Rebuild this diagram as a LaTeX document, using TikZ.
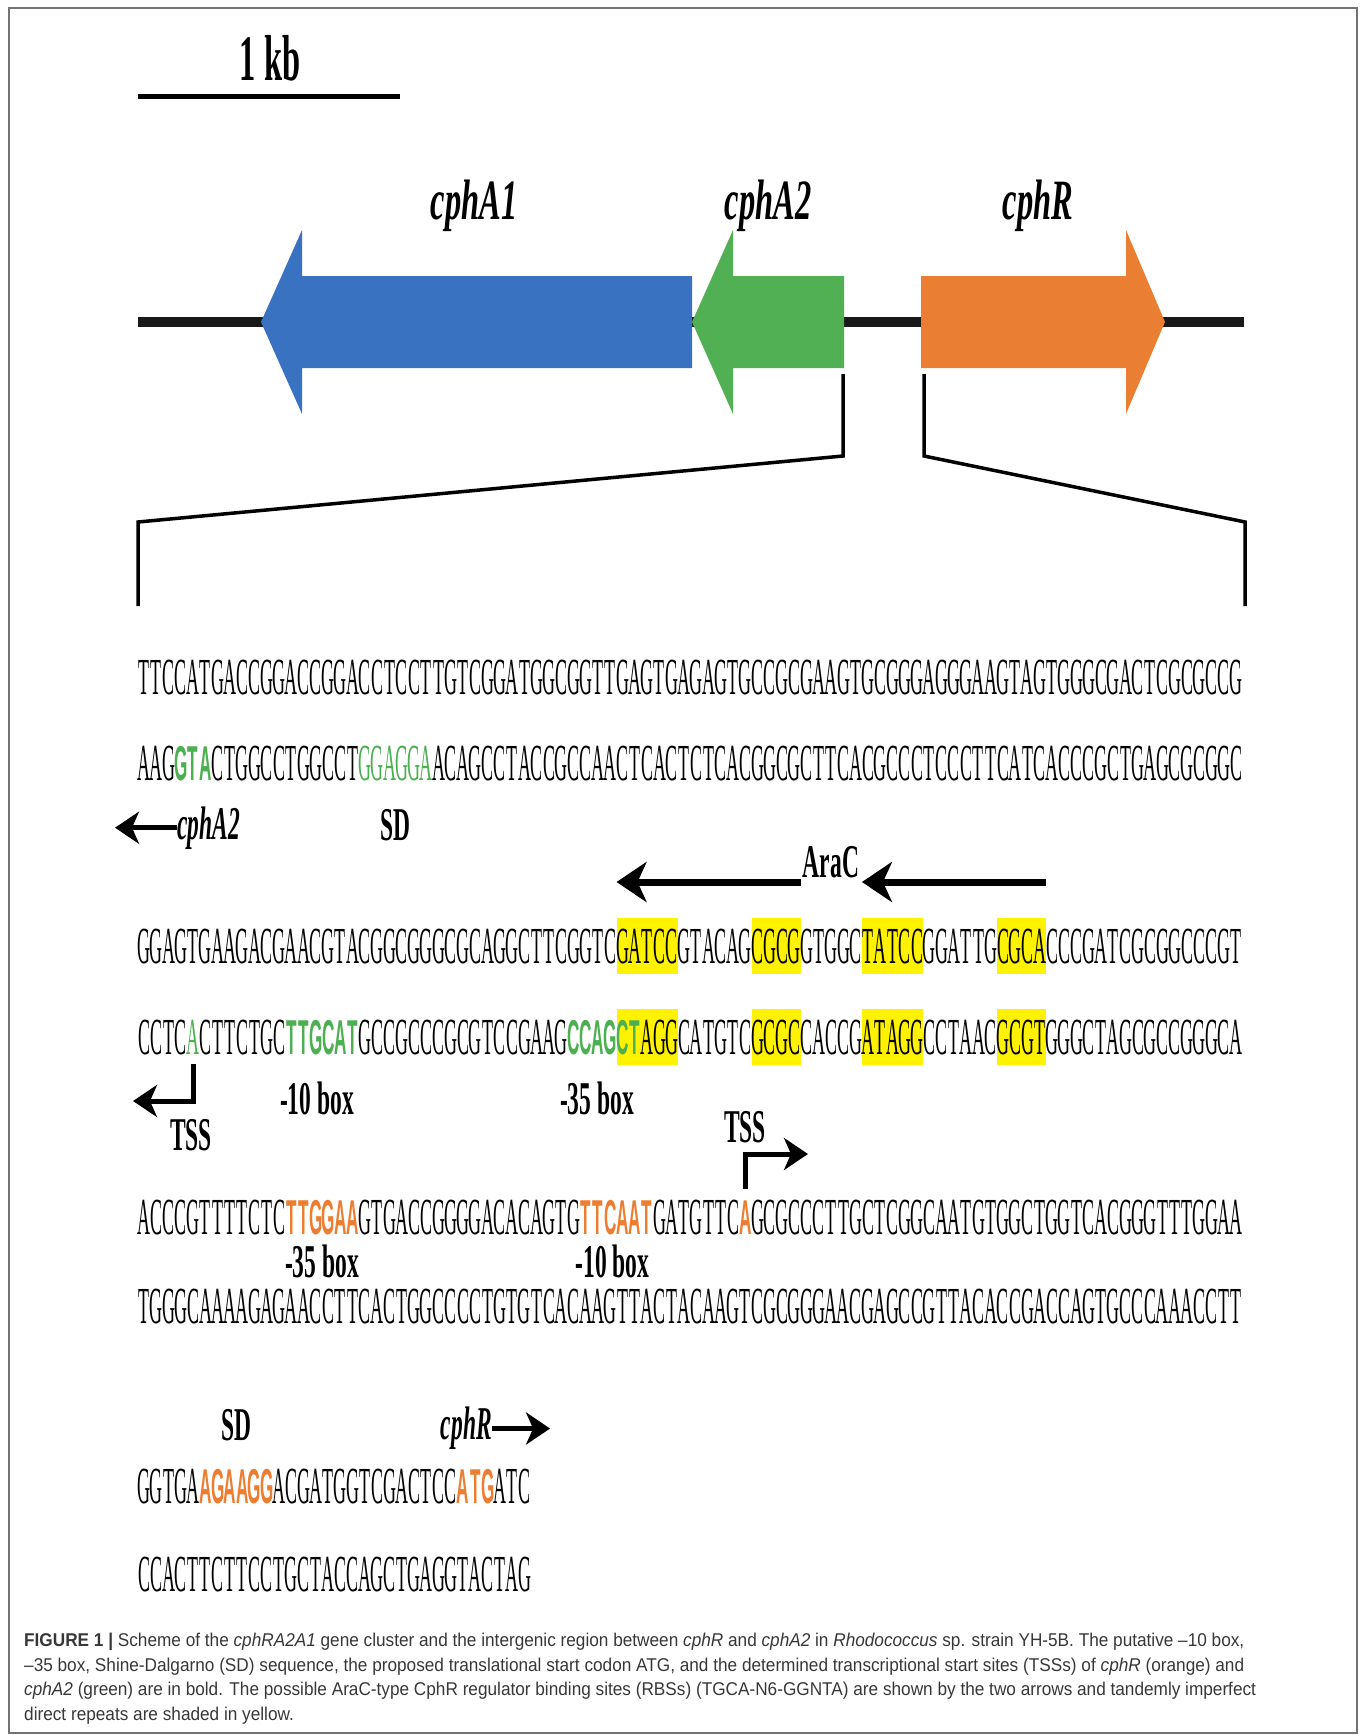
\documentclass[tikz,border=0pt]{standalone}
\usepackage{fontspec}
\usepackage{xcolor}
\setmainfont{Liberation Serif}
\newfontfamily\seqfont[FakeStretch=0.345]{Liberation Serif}
\newfontfamily\seqbold[FakeStretch=0.35]{Liberation Sans}
\newfontfamily\lblfont[FakeStretch=0.5]{Liberation Serif}
\newfontfamily\genefont[FakeStretch=0.57]{Liberation Serif}
\newfontfamily\capfont[FakeStretch=0.93]{Liberation Sans}
\usetikzlibrary{positioning,arrows.meta}
\definecolor{cphaone}{RGB}{57,114,193}
\definecolor{cphatwo}{RGB}{82,176,84}
\definecolor{cphr}{RGB}{234,126,50}
\definecolor{seqgreen}{RGB}{76,175,80}
\definecolor{seqorange}{RGB}{237,125,49}
\definecolor{capgray}{RGB}{55,55,55}
% every base gets a cell of the same width
\newlength\basew
\setlength\basew{12.27pt}
\newcommand{\bases}[1]{\basesloop#1\relax}
\def\basesloop#1{\ifx\relax#1\else\makebox[\basew]{#1}\expandafter\basesloop\fi}
\newcommand{\grnbf}[1]{{\seqbold\bfseries\fontsize{49}{49}\selectfont\color{seqgreen}#1}}
\tikzstyle{seq}=[inner sep=0pt, outer sep=0pt, text height=34pt, text depth=0pt, font=\seqfont\fontsize{52}{52}\selectfont]
\tikzstyle{grn}=[seq, text=seqgreen]
\tikzstyle{grnbf}=[seq, text=seqgreen, font=\seqbold\bfseries\fontsize{49}{49}\selectfont]
\tikzstyle{orgbf}=[seq, text=seqorange, font=\seqbold\bfseries\fontsize{49}{49}\selectfont]
\tikzstyle{rbs}=[seq, fill=yellow, minimum height=56pt]
\tikzstyle{lbl}=[inner sep=0pt, font=\lblfont\bfseries\fontsize{47}{47}\selectfont]
\tikzstyle{lblit}=[inner sep=0pt, font=\lblfont\bfseries\itshape\fontsize{47}{47}\selectfont]
\tikzstyle{gene}=[inner sep=0pt, anchor=base, font=\genefont\bfseries\itshape\fontsize{57}{57}\selectfont]
\tikzstyle{arrow}=[line width=5pt, -{Stealth[length=24pt,width=32pt,inset=7pt]}]
\tikzstyle{aracarrow}=[line width=7pt, -{Stealth[length=30pt,width=40pt,inset=9pt]}]
\tikzstyle{zoomline}=[line width=3.5pt]

\begin{document}
\begin{tikzpicture}[x=1pt,y=-1pt]
\useasboundingbox (0,0) rectangle (1362,1735);
\draw[black!55, line width=1.2pt] (9,8) rectangle (1357,1733);

% scale bar
\draw[line width=5pt] (138,96) -- (400,96);
\node[lbl, font=\lblfont\bfseries\fontsize{65}{65}\selectfont, anchor=base] (kb) at (270,80) {1 kb};

% gene cluster
\draw[line width=10pt, black!90] (138,322) -- (1244,322);
\fill[cphaone] (261,322) -- (302,230) -- (302,276) -- (692,276) -- (692,368) -- (302,368) -- (302,414) -- cycle;
\fill[cphatwo] (692,322) -- (733,230) -- (733,276) -- (844,276) -- (844,368) -- (733,368) -- (733,414) -- cycle;
\fill[cphr] (921,276) -- (1126,276) -- (1126,230) -- (1165,322) -- (1126,414) -- (1126,368) -- (921,368) -- cycle;
\node[gene] (gA1) at (474,219) {cphA1};
\node[gene] (gA2) at (768,219) {cphA2};
\node[gene] (gR) at (1038,219) {cphR};

% zoom into intergenic region
\draw[zoomline] (843,374) -- (843,456) -- (138,522) -- (138,606);
\draw[zoomline] (924,374) -- (924,456) -- (1245,522) -- (1245,606);

% sequence
\node[seq, anchor=base west] (l1) at (138,694) {\bases{TTCCATGACCGGACCGGACCTCCTTGTCGGATGGCGGTTGAGTGAGAGTGCCGCGAAGTGCGGGAGGGAAGTAGTGGGCGACTCGCGCCG}};

\node[seq, anchor=base west] (l2a) at (138,780) {\bases{AAG}};
\node[grnbf, base right=0pt of l2a] (l2b) {\bases{GTA}};
\node[seq, base right=0pt of l2b] (l2c) {\bases{CTGGCCTGGCCT}};
\node[grn, base right=0pt of l2c] (l2d) {\bases{GGAGGA}};
\node[seq, base right=0pt of l2d] (l2e) {\bases{ACAGCCTACCGCCAACTCACTCTCACGGCGCTTCACGCCCTCCCTTCATCACCCGCTGAGCGCGGC}};
\node[lbl, below=29pt of l2d] (sdA) {SD};
\node[lblit, anchor=base west] (lblA2) at (177,839) {cphA2};
\coordinate[left=62pt of lblA2] (tipA2);
\draw[arrow] (lblA2.west) -- (tipA2);

\node[seq, anchor=base west] (l3a) at (138,963) {\bases{GGAGTGAAGACGAACGTACGGCGGGCGCAGGCTTCGGTC}};
\node[rbs, base right=0pt of l3a] (l3b) {\bases{GATCC}};
\node[seq, base right=0pt of l3b] (l3c) {\bases{GTACAG}};
\node[rbs, base right=0pt of l3c] (l3d) {\bases{CGCG}};
\node[seq, base right=0pt of l3d] (l3e) {\bases{GTGGC}};
\node[rbs, base right=0pt of l3e] (l3f) {\bases{TATCC}};
\node[seq, base right=0pt of l3f] (l3g) {\bases{GGATTG}};
\node[rbs, base right=0pt of l3g] (l3h) {\bases{CGCA}};
\node[seq, base right=0pt of l3h] (l3i) {\bases{CCCGATCGCGGCCCGT}};
\draw[aracarrow] ([yshift=36pt]l3d.north east) -- ([yshift=36pt]l3b.north west);
\draw[aracarrow] ([yshift=36pt]l3h.north east) -- ([yshift=36pt]l3f.north west);
\node[lbl, anchor=base] (arac) at (831,877) {AraC};

\node[seq, anchor=base west] (l4a) at (138,1054) {\bases{CCTC}};
\node[grn, base right=0pt of l4a] (l4b) {\bases{A}};
\node[seq, base right=0pt of l4b] (l4c) {\bases{CTTCTGC}};
\node[grnbf, base right=0pt of l4c] (l4d) {\bases{TTGCAT}};
\node[seq, base right=0pt of l4d] (l4e) {\bases{GCCGCCCGCGTCCGAAG}};
\node[grnbf, base right=0pt of l4e] (l4f) {\bases{CCAG}};
\node[rbs, base right=0pt of l4f] (l4g) {\grnbf{\bases{CT}}\bases{AGG}};
\node[seq, base right=0pt of l4g] (l4h) {\bases{CATGTC}};
\node[rbs, base right=0pt of l4h] (l4i) {\bases{GCGC}};
\node[seq, base right=0pt of l4i] (l4j) {\bases{CACCG}};
\node[rbs, base right=0pt of l4j] (l4k) {\bases{ATAGG}};
\node[seq, base right=0pt of l4k] (l4l) {\bases{CCTAAC}};
\node[rbs, base right=0pt of l4l] (l4m) {\bases{GCGT}};
\node[seq, base right=0pt of l4m] (l4n) {\bases{GGGCTAGCGCCGGGCA}};
\node[lbl, below=28pt of l4d, xshift=-5pt] (tenA) {-10 box};
\node[lbl, below=28pt of l4f, xshift=5pt] (tfA) {-35 box};
\coordinate (tssL) at (133,1101);
\draw[arrow] ([yshift=-10pt]l4b.south) |- (tssL);
\node[lbl, anchor=base] (tssLlbl) at (191,1150) {TSS};

\node[seq, anchor=base west] (l5a) at (138,1234) {\bases{ACCCGTTTTCTC}};
\node[orgbf, base right=0pt of l5a] (l5b) {\bases{TTGGAA}};
\node[seq, base right=0pt of l5b] (l5c) {\bases{GTGACCGGGGACACAGTG}};
\node[orgbf, base right=0pt of l5c] (l5d) {\bases{TTCAAT}};
\node[seq, base right=0pt of l5d] (l5e) {\bases{GATGTTC}};
\node[orgbf, base right=0pt of l5e] (l5f) {\bases{A}};
\node[seq, base right=0pt of l5f] (l5g) {\bases{GCGCCCTTGCTCGGCAATGTGGCTGGTCACGGGTTTGGAA}};
\node[lbl, below=11pt of l5b] (tfR) {-35 box};
\node[lbl, below=11pt of l5d, xshift=-4pt] (tenR) {-10 box};
\coordinate (tssR) at (808,1154);
\draw[arrow] ([yshift=11pt]l5f.north) |- (tssR);
\node[lbl, anchor=base] (tssRlbl) at (745,1142) {TSS};

\node[seq, anchor=base west] (l6) at (138,1323) {\bases{TGGGCAAAAGAGAACCTTCACTGGCCCCTGTGTCACAAGTTACTACAAGTCGCGGGAACGAGCCGTTACACCGACCAGTGCCCAAACCTT}};

\node[seq, anchor=base west] (l7a) at (138,1503) {\bases{GGTGA}};
\node[orgbf, base right=0pt of l7a] (l7b) {\bases{AGAAGG}};
\node[seq, base right=0pt of l7b] (l7c) {\bases{ACGATGGTCGACTCC}};
\node[orgbf, base right=0pt of l7c] (l7d) {\bases{ATG}};
\node[seq, base right=0pt of l7d] (l7e) {\bases{ATC}};
\node[lbl, above=28pt of l7b] (sdR) {SD};
\node[lblit, above=19pt of l7d, xshift=-9pt] (lblR) {cphR};
\coordinate[right=58pt of lblR] (tipR);
\draw[arrow] (lblR.east) -- (tipR);

\node[seq, anchor=base west] (l8) at (138,1591) {\bases{CCACTTCTTCCTGCTACCAGCTGAGGTACTAG}};

% caption
\node[anchor=north west, inner sep=0pt, align=left, text=capgray, font=\capfont\fontsize{18.5}{24.5}\selectfont] (cap) at (24,1633) {\textbf{FIGURE 1 |} Scheme of the \textit{cphRA2A1} gene cluster and the intergenic region between \textit{cphR} and \textit{cphA2} in \textit{Rhodococcus} sp. strain YH-5B. The putative –10 box,\\
–35 box, Shine-Dalgarno (SD) sequence, the proposed translational start codon ATG, and the determined transcriptional start sites (TSSs) of \textit{cphR} (orange) and\\
\textit{cphA2} (green) are in bold. The possible AraC-type CphR regulator binding sites (RBSs) (TGCA-N6-GGNTA) are shown by the two arrows and tandemly imperfect\\
direct repeats are shaded in yellow.};
\end{tikzpicture}
\end{document}
